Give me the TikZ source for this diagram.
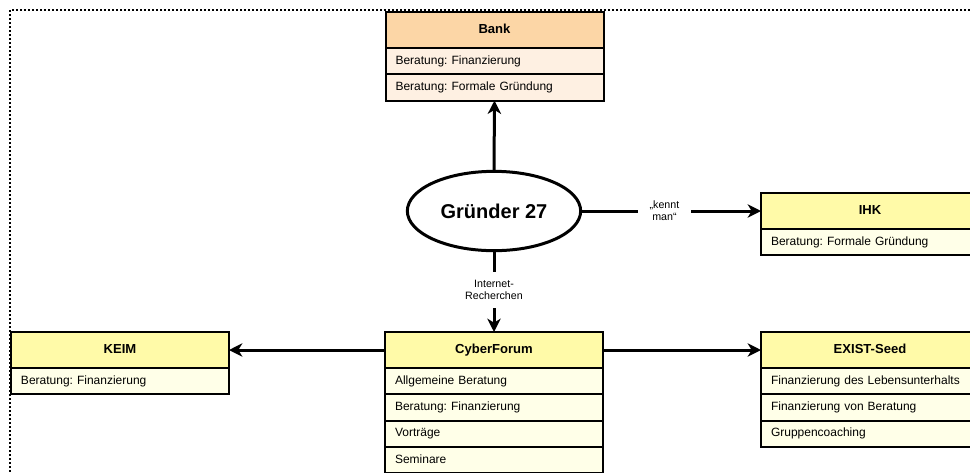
\documentclass[tikz,border=0pt]{standalone}
\usepackage{fontspec}
\setmainfont{Liberation Sans}
\frenchspacing
\usetikzlibrary{arrows.meta,positioning,shapes.geometric}
\definecolor{hdorange}{RGB}{252,214,166}
\definecolor{roworange}{RGB}{254,240,226}
\definecolor{hdyellow}{RGB}{255,250,168}
\definecolor{rowyellow}{RGB}{255,255,232}
\tikzset{
	blk/.style={draw, line width=1.5pt, outer sep=0pt, minimum width=163.5pt},
	hd/.style={blk, minimum height=27pt, text height=7pt, text depth=2pt,
		font=\fontsize{9.8}{11}\selectfont\bfseries},
	hdO/.style={hd, fill=hdorange},
	hdY/.style={hd, fill=hdyellow},
	row/.style={blk, minimum height=19.7pt, text width=148.5pt, inner xsep=7.5pt,
		text height=6.6pt, text depth=1.9pt, align=left, font=\fontsize{9}{10.8}\selectfont},
	rowO/.style={row, fill=roworange},
	rowY/.style={row, fill=rowyellow},
	ell/.style={draw, ellipse, line width=2.25pt, inner sep=0pt, minimum width=130pt,
		minimum height=59.5pt, font=\fontsize{15}{18}\selectfont\bfseries},
	conn/.style={line width=2.25pt, -{Stealth[length=10pt, width=10pt, inset=3pt]}},
	lbl/.style={font=\fontsize{8}{9}\selectfont, fill=white, align=center},
}
\begin{document}
\begin{tikzpicture}[x=0.75pt, y=-0.75pt]
				\useasboundingbox (0,0) rectangle (970,472);
				\clip (0,0) rectangle (970,472);
				\draw[line width=1.4pt, dash pattern=on 1.5pt off 1.5pt] (10,10) rectangle (1000,500);
				\node[ell] at (494,211) (gr) {Gründer 27};
				\node[hdO] at (494.5,30) (bank) {Bank};
				\node[rowO, below=0pt of bank] (bank1) {Beratung: Finanzierung};
				\node[rowO, below=0pt of bank1] (bank2) {Beratung: Formale Gründung};
				\node[hdY] at (870,211) (ihk) {IHK};
				\node[rowY, below=0pt of ihk] (ihk1) {Beratung: Formale Gründung};
				\node[hdY] at (120,350) (keim) {KEIM};
				\node[rowY, below=0pt of keim] (keim1) {Beratung: Finanzierung};
				\node[hdY] at (494,350) (cyb) {CyberForum};
				\node[rowY, below=0pt of cyb] (cyb1) {Allgemeine Beratung};
				\node[rowY, below=0pt of cyb1] (cyb2) {Beratung: Finanzierung};
				\node[rowY, below=0pt of cyb2] (cyb3) {Vorträge};
				\node[rowY, below=0pt of cyb3] (cyb4) {Seminare};
				\node[hdY] at (870,350) (exist) {EXIST-Seed};
				\node[rowY, below=0pt of exist] (exist1) {Finanzierung des Lebensunterhalts};
				\node[rowY, below=0pt of exist1] (exist2) {Finanzierung von Beratung};
				\node[rowY, below=0pt of exist2] (exist3) {Gruppencoaching};
				\draw[conn] (gr.north) -- (bank2.south);
				\draw[conn] (gr.east) -- (ihk.west) node[lbl, pos=0.46, inner xsep=9pt] {„kennt\\man“};
				\draw[conn] (gr.south) -- (cyb.north) node[lbl, pos=0.475, inner ysep=6pt] {Internet-\\Recherchen};
				\draw[conn] (cyb.west) -- (keim.east);
				\draw[conn] (cyb.east) -- (exist.west);
			\end{tikzpicture}
\end{document}
